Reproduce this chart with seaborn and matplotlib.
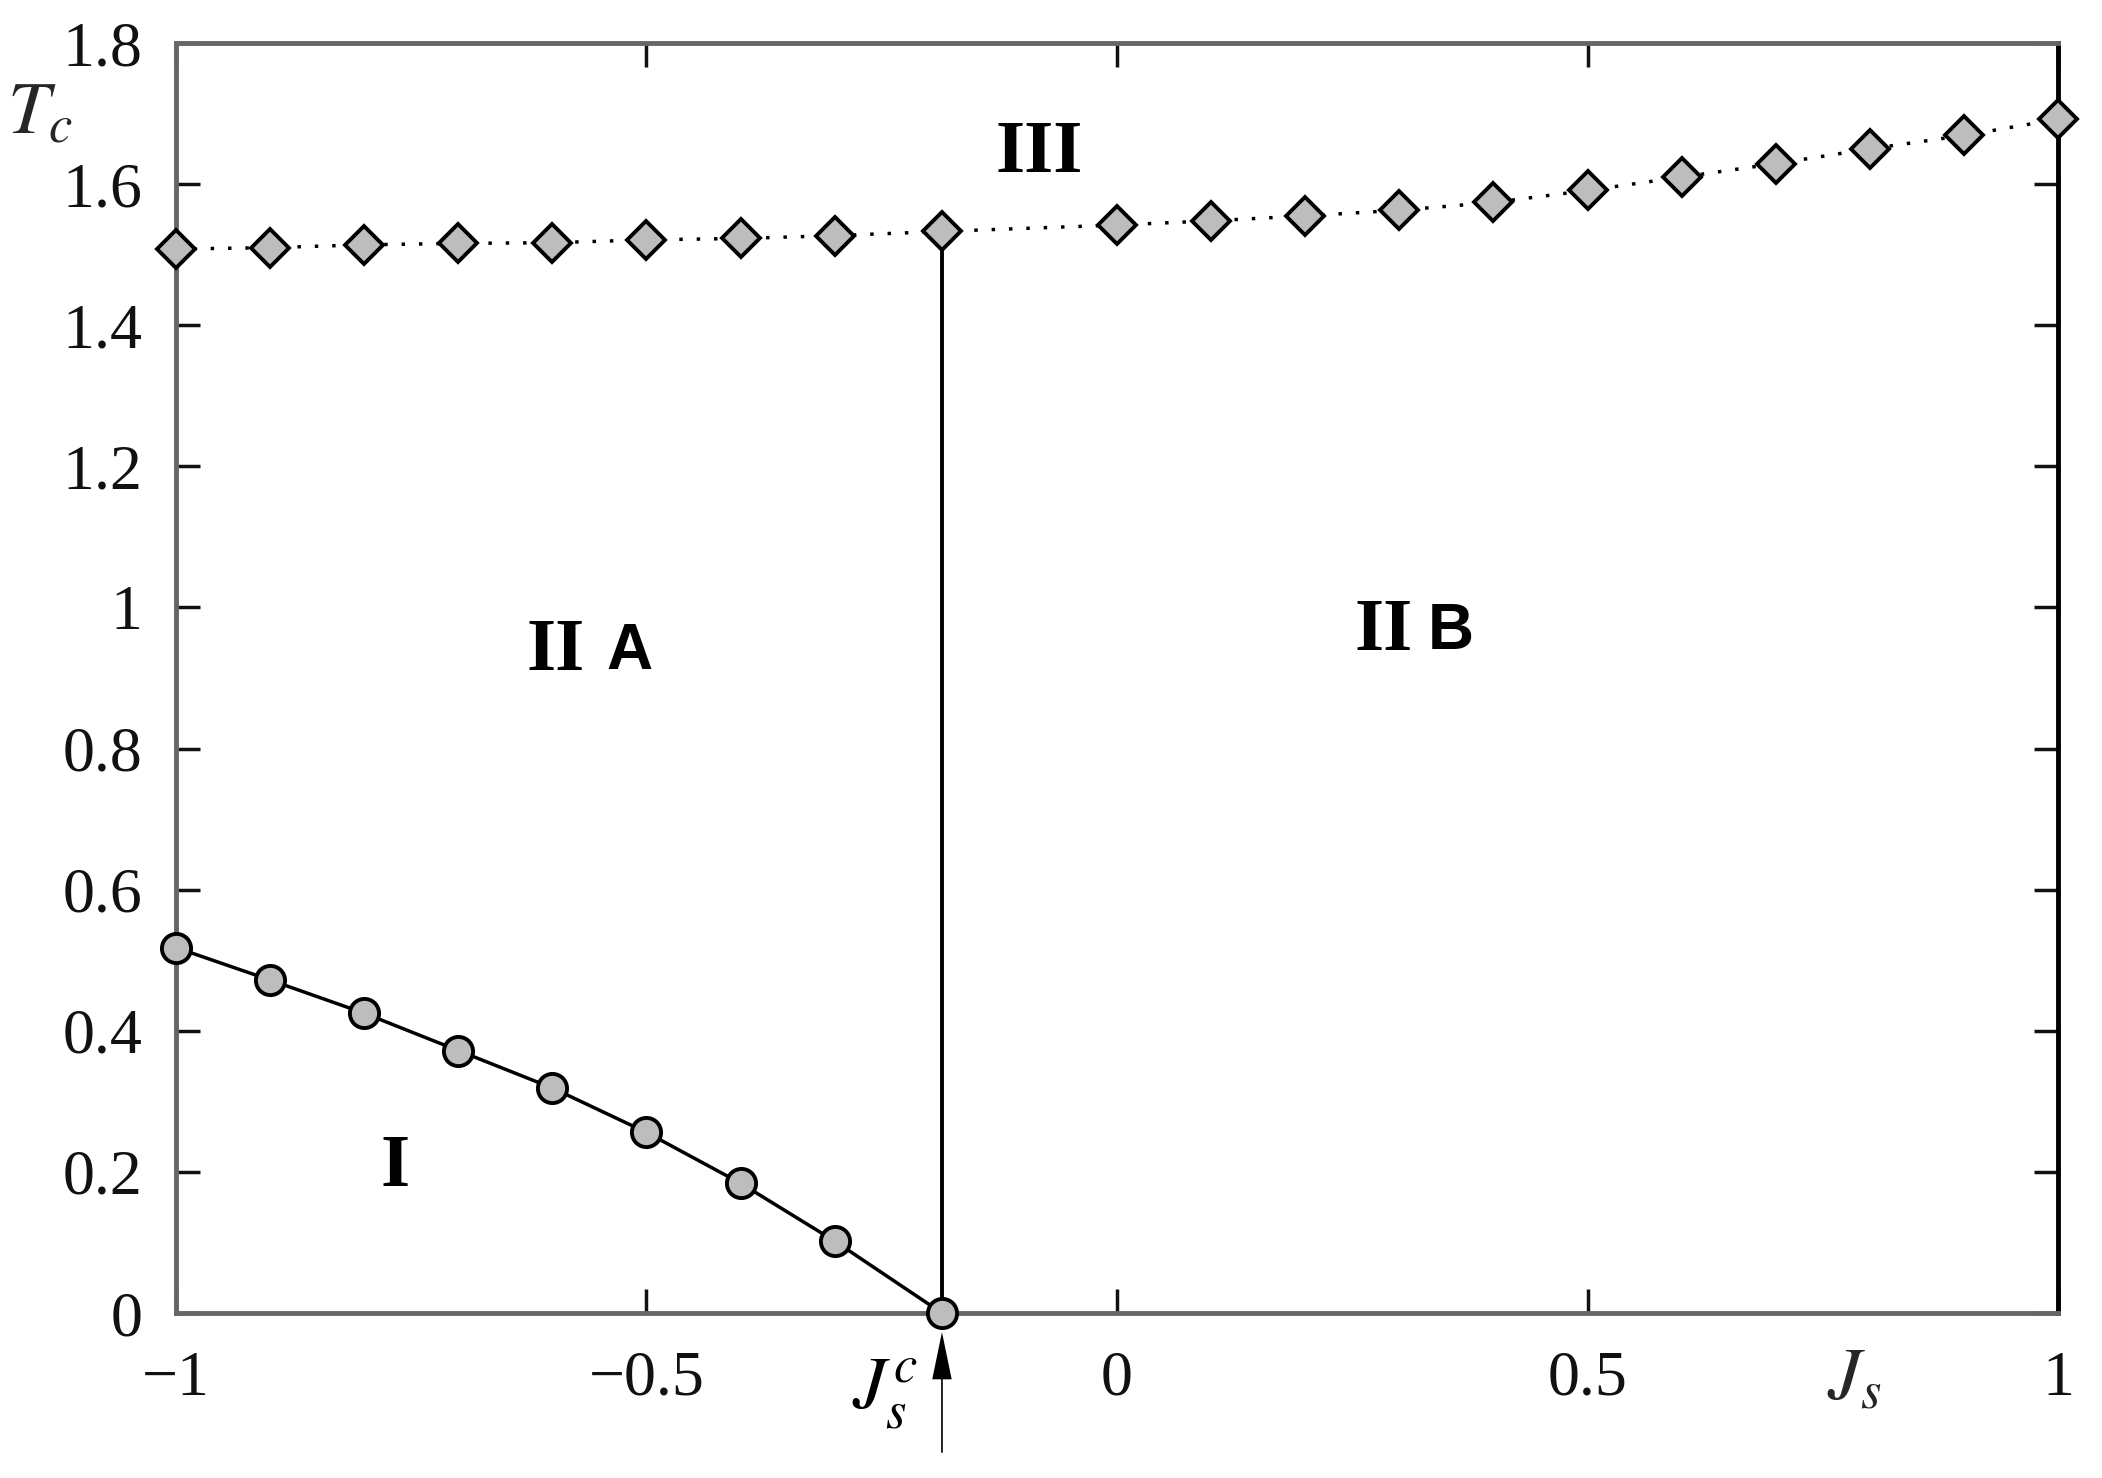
import matplotlib
matplotlib.use('Agg')
import matplotlib.pyplot as plt
import seaborn as sns

# data
js_c = -0.186
js_low = [-1.0, -0.9, -0.8, -0.7, -0.6, -0.5, -0.4, -0.3, js_c]
tc_low = [0.518, 0.472, 0.425, 0.372, 0.319, 0.256, 0.184, 0.102, 0.0]

js_high = [-1.0, -0.9, -0.8, -0.7, -0.6, -0.5, -0.4, -0.3, js_c,
           0.0, 0.1, 0.2, 0.3, 0.4, 0.5, 0.6, 0.7, 0.8, 0.9, 1.0]
tc_high = [1.508, 1.510, 1.514, 1.516, 1.517, 1.521, 1.523, 1.527, 1.533,
           1.542, 1.548, 1.555, 1.563, 1.574, 1.591, 1.610, 1.629, 1.650, 1.669, 1.692]

x_ticks = [-1, -0.5, 0, 0.5, 1]
x_ticklabels = ['\u22121', '\u22120.5', '0', '0.5', '1']
y_ticks = [0, 0.2, 0.4, 0.6, 0.8, 1.0, 1.2, 1.4, 1.6, 1.8]
y_ticklabels = ['0', '0.2', '0.4', '0.6', '0.8', '1', '1.2', '1.4', '1.6', '1.8']

sns.set_style('ticks')
plt.rcParams['font.family'] = ['Liberation Serif', 'DejaVu Serif']
plt.rcParams['mathtext.fontset'] = 'stix'
plt.rcParams['text.color'] = 'black'

fig = plt.figure(figsize=(21.02, 14.78), dpi=100)
ax = fig.add_axes([0.0837, 0.1116, 0.8954, 0.8593])

grey = '#bdbdbd'
# vertical boundary at Js^c
ax.plot([js_c, js_c], [0, tc_high[js_high.index(js_c)]], color='black', lw=2.8, zorder=2)

sns.lineplot(x=js_low, y=tc_low, ax=ax, color='black', lw=2.5, marker='o',
             markersize=21, markerfacecolor=grey, markeredgecolor='black',
             markeredgewidth=2.8, clip_on=False, zorder=3)
sns.lineplot(x=js_high, y=tc_high, ax=ax, color='black', lw=2.5,
             linestyle=(0, (1, 4)), marker='D', markersize=19,
             markerfacecolor=grey, markeredgecolor='black',
             markeredgewidth=2.8, clip_on=False, zorder=3)

ax.set_xlim(-1, 1)
ax.set_ylim(0, 1.8)
ax.set_xticks(x_ticks)
ax.set_xticklabels(x_ticklabels)
ax.set_yticks(y_ticks)
ax.set_yticklabels(y_ticklabels)
ax.tick_params(direction='in', top=True, right=True, length=17, width=2.5,
               labelsize=46, colors='#111111')
ax.tick_params(axis='x', pad=27)
ax.tick_params(axis='y', pad=24)

for side in ['left', 'top', 'bottom']:
    ax.spines[side].set_color('#666666')
    ax.spines[side].set_linewidth(3.5)
ax.spines['right'].set_color('black')
ax.spines['right'].set_linewidth(3.5)

ax.set_ylabel('$T_c$', fontsize=54, rotation=0, ha='center', va='center')
ax.yaxis.set_label_coords(-0.072, 0.943)
ax.set_xlabel('$J_s$', fontsize=54, ha='center', va='center')
ax.xaxis.set_label_coords(0.892, -0.054)

# Js^c marker under the axis
ax.annotate('', xy=(js_c, -0.015), xycoords=('data', 'axes fraction'),
            xytext=(js_c, -0.11), textcoords=('data', 'axes fraction'),
            arrowprops=dict(width=1.2, headwidth=14, headlength=34,
                            facecolor='black', edgecolor='none'))
ax.text(-0.247, -0.064, '$J_s^c$', transform=ax.get_xaxis_transform(),
        fontsize=54, ha='center', va='center')

# phase labels
bold = dict(fontweight='bold', fontsize=54, ha='center', va='center')
ax.text(-0.083, 1.643, 'III', **bold)
ax.text(-0.597, 0.937, 'II', **bold)
ax.text(-0.518, 0.937, 'A', family=['Liberation Sans'], fontweight='bold',
        fontsize=46, ha='center', va='center')
ax.text(0.283, 0.965, 'II', **bold)
ax.text(0.355, 0.965, 'B', family=['Liberation Sans'], fontweight='bold',
        fontsize=46, ha='center', va='center')
ax.text(-0.767, 0.205, 'I', **bold)

fig.savefig('out.png', dpi=100)
